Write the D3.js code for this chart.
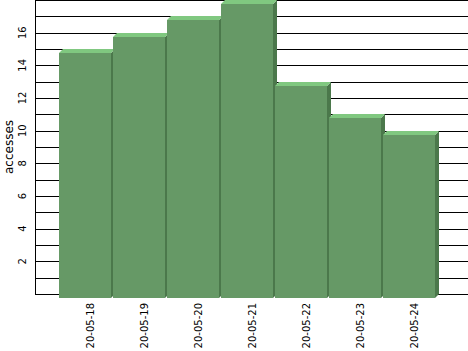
<!DOCTYPE html>
<html><head><meta charset="utf-8">
<script src="https://cdn.jsdelivr.net/npm/d3@7"></script>
<style>body{margin:0;background:#fff}svg{display:block}text{font-family:"DejaVu Sans",sans-serif;fill:#000}</style>
</head><body><svg id="c" width="468" height="351"></svg>
<script>
const categories = ["20-05-18","20-05-19","20-05-20","20-05-21","20-05-22","20-05-23","20-05-24"];
const accesses = [15, 16, 17, 18, 13, 11, 10];
const yLabelTicks = [2, 4, 6, 8, 10, 12, 14, 16];
const yGridTicks = d3.range(0, 19, 1);
const yTitle = "accesses";

const svg = d3.select("#c");
const pLeft = 35, pRight = 468, pTop = 0, pBottom = 294;
const dx = 4, dy = 4;
const y = d3.scaleLinear().domain([0, 18]).range([pBottom, pTop]);
const x = d3.scaleBand().domain(categories).range([58, 436]).paddingInner(2/54).paddingOuter(1/54);

// grid
svg.append("g").selectAll("line").data(yGridTicks).join("line")
  .attr("x1", pLeft).attr("x2", pRight)
  .attr("y1", d => Math.round(y(d)) + 0.5).attr("y2", d => Math.round(y(d)) + 0.5)
  .attr("stroke", "#000").attr("stroke-width", 1);
svg.append("line").attr("x1", pLeft + 0.5).attr("x2", pLeft + 0.5).attr("y1", pTop).attr("y2", pBottom + 1)
  .attr("stroke", "#000");

// bars
const bars = svg.append("g").selectAll("g").data(categories).join("g");
const front = "#669966", topc = "#80c880", side = "#4b784b";
bars.each(function(c, i) {
  const g = d3.select(this);
  const x0 = x(c), w = x.bandwidth();
  const yt = Math.round(y(accesses[i])) + dy, yb = pBottom + dy;
  g.append("polygon").attr("fill", side)
    .attr("points", [[x0 + w, yt], [x0 + w + dx, yt - dy], [x0 + w + dx, yb - dy], [x0 + w, yb]].join(" "));
  g.append("polygon").attr("fill", topc)
    .attr("points", [[x0, yt], [x0 + dx, yt - dy], [x0 + w + dx, yt - dy], [x0 + w, yt]].join(" "));
  g.append("rect").attr("fill", front).attr("x", x0).attr("y", yt).attr("width", w).attr("height", yb - yt);
});

// y labels
svg.append("g").selectAll("text").data(yLabelTicks).join("text")
  .attr("transform", d => `translate(26,${y(d)}) rotate(-90)`)
  .attr("text-anchor", "middle").attr("font-size", 10).text(d => d);
svg.append("text").attr("transform", `translate(13,147) rotate(-90)`)
  .attr("text-anchor", "middle").attr("font-size", 12).text(yTitle);

// x labels
svg.append("g").selectAll("text").data(categories).join("text")
  .attr("transform", c => `translate(${x(c) + x.bandwidth()/2 + 9},303) rotate(-90)`)
  .attr("text-anchor", "end").attr("font-size", 10).text(c => c);
</script></body></html>
